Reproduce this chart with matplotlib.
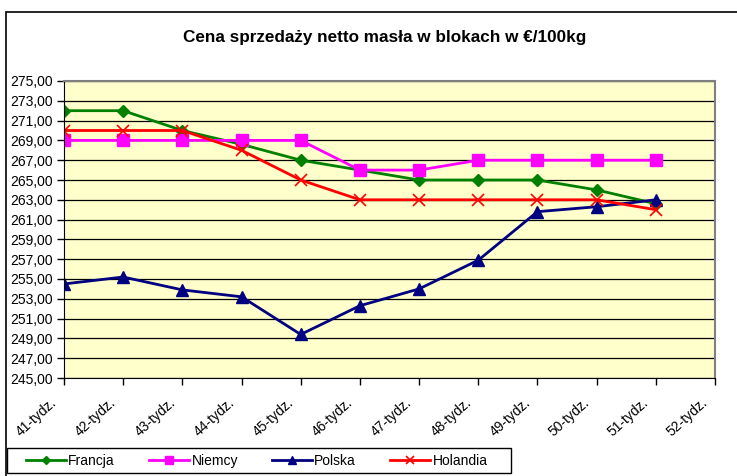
import numpy as np
import matplotlib
matplotlib.use('Agg')
import matplotlib.pyplot as plt
import matplotlib.transforms as mtransforms
from matplotlib.patches import Rectangle

plt.rcParams['font.family'] = ['Liberation Sans', 'DejaVu Sans']

# ─────────────────────────────────────────────
# Data
# ─────────────────────────────────────────────
weeks = ['41-tydz.', '42-tydz.', '43-tydz.', '44-tydz.', '45-tydz.', '46-tydz.',
         '47-tydz.', '48-tydz.', '49-tydz.', '50-tydz.', '51-tydz.', '52-tydz.']
francja  = [272.0, 272.0, 270.0, 268.6, 267.0, 266.0, 265.0, 265.0, 265.0, 264.0, 262.6]
niemcy   = [269.0, 269.0, 269.0, 269.0, 269.0, 266.0, 266.0, 267.0, 267.0, 267.0, 267.0]
polska   = [254.5, 255.2, 253.9, 253.2, 249.4, 252.3, 254.0, 256.9, 261.8, 262.3, 263.0]
holandia = [270.0, 270.0, 270.0, 268.0, 265.0, 263.0, 263.0, 263.0, 263.0, 263.0, 262.0]

series = [
    ('Francja',  francja,  '#008000', 'D', 6),
    ('Niemcy',   niemcy,   '#FF00FF', 's', 8),
    ('Polska',   polska,   '#000080', '^', 9),
    ('Holandia', holandia, '#FF0000', 'x', 9),
]

# ─────────────────────────────────────────────
# Figure
# ─────────────────────────────────────────────
fig = plt.figure(figsize=(7.37, 4.76), dpi=100)
ax = fig.add_axes([64 / 737, 1 - 378 / 476, (715 - 64) / 737, (378 - 81) / 476])
ax.set_facecolor('#FFFFCC')

# outer chart frame + legend box
fig.patches.append(Rectangle((6 / 737, -0.05), 1.0, (476 - 12) / 476 + 0.05,
                             transform=fig.transFigure, fill=False,
                             edgecolor='black', linewidth=1.2, zorder=0))
fig.patches.append(Rectangle((7 / 737, 3 / 476), (511 - 7) / 737, 25 / 476,
                             transform=fig.transFigure, fill=False,
                             edgecolor='black', linewidth=1, zorder=0))

x = np.arange(len(francja))
for name, vals, color, marker, ms in series:
    kw = dict(color=color, linewidth=2, marker=marker, markersize=ms, label=name)
    if marker == 'x':
        kw.update(markeredgewidth=1.2)
    else:
        kw.update(markeredgecolor=color, markerfacecolor=color)
    ax.plot(x, vals, **kw)

ax.set_xlim(0, len(weeks) - 1)
ax.set_ylim(245, 275)
yt = np.arange(245, 276, 2)
ax.set_yticks(yt)
ax.set_yticklabels([f'{v:.2f}'.replace('.', ',') for v in yt], fontsize=10)
ax.yaxis.grid(True, color='black', linewidth=0.9)
ax.set_axisbelow(True)

# x tick labels, rotated and shifted like Excel does
ax.set_xticks(range(len(weeks)))
ax.set_xticklabels([])
shift = mtransforms.ScaledTranslation(-9 / 100, -23 / 100, fig.dpi_scale_trans)
for i, w in enumerate(weeks):
    ax.text(i, 0, w, transform=ax.get_xaxis_transform() + shift,
            rotation=42, ha='right', va='center', rotation_mode='anchor',
            fontsize=10)

ax.tick_params(axis='both', direction='out', length=5, color='black', width=1)
ax.tick_params(axis='y', pad=3)
for side in ['left', 'bottom']:
    ax.spines[side].set_color('black')
for side in ['right', 'top']:
    ax.spines[side].set_color('#808080')
    ax.spines[side].set_linewidth(1.5)

fig.text(385 / 737, 1 - 38 / 476, 'Cena sprzedaży netto masła w blokach w €/100kg',
         ha='center', va='center', fontsize=12.3, fontweight='bold')

leg = fig.legend(loc='center left', bbox_to_anchor=(26 / 737, 15 / 476), ncol=4,
                 frameon=False, fontsize=10, handlelength=2.9,
                 columnspacing=2.45, handletextpad=0.15, borderpad=0,
                 borderaxespad=0, markerscale=0.7)

plt.savefig('out.png', dpi=100, facecolor='white')
plt.close(fig)
